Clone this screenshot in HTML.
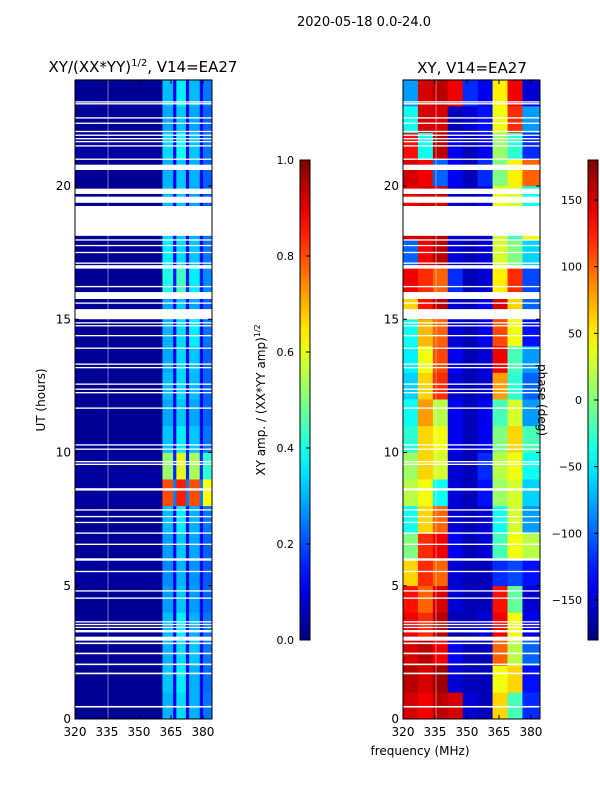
<!DOCTYPE html>
<html><head><meta charset="utf-8"><style>
html,body{margin:0;padding:0;background:#fff}
svg{display:block;font-family:"DejaVu Sans","Liberation Sans",sans-serif}
</style></head><body>
<svg id="fig" width="600" height="800" viewBox="0 0 600 800" xmlns="http://www.w3.org/2000/svg">
<text x="364" y="26" font-size="13" text-anchor="middle">2020-05-18 0.0-24.0</text>
<text x="143" y="72" font-size="15" text-anchor="middle">XY/(XX*YY)<tspan font-size="10" dy="-6">1/2</tspan><tspan dy="6">, V14=EA27</tspan></text>
<text x="472" y="73" font-size="15" text-anchor="middle">XY, V14=EA27</text>
<text x="420" y="755" font-size="12" text-anchor="middle">frequency (MHz)</text>
<text transform="translate(45,400) rotate(-90)" font-size="12" text-anchor="middle">UT (hours)</text>
<text transform="translate(265,400) rotate(-90)" font-size="12" text-anchor="middle">XY amp. / (XX*YY amp)<tspan font-size="8" dy="-5">1/2</tspan></text>
<g id="left"></g>
<g id="right"></g>
<g id="cb"></g>
<text transform="translate(538,400) rotate(90)" font-size="12" text-anchor="middle">phase (deg)</text>
</svg>
<script>
// ---- data ----
const hours = [0,1,2,3,4,5,6,7,8,9,10,11,12,13,14,15,16,17,18,19,20,21,22,23];
const ampFreqEdges = [320,361,366,367.5,372,373.5,378.5,380,384];
const ampValues = [
[0.02,0.30,0.12,0.34,0.12,0.30,0.12,0.24],
[0.02,0.32,0.12,0.36,0.12,0.30,0.12,0.23],
[0.02,0.30,0.12,0.34,0.12,0.32,0.12,0.24],
[0.02,0.31,0.12,0.36,0.12,0.30,0.12,0.24],
[0.02,0.28,0.12,0.32,0.12,0.28,0.12,0.22],
[0.03,0.26,0.11,0.30,0.11,0.27,0.11,0.21],
[0.02,0.28,0.12,0.32,0.12,0.29,0.12,0.22],
[0.02,0.31,0.12,0.36,0.12,0.30,0.12,0.24],
[0.03,0.80,0.25,0.85,0.25,0.80,0.25,0.62],
[0.03,0.52,0.16,0.60,0.16,0.54,0.16,0.42],
[0.02,0.32,0.12,0.36,0.12,0.32,0.12,0.24],
[0.02,0.29,0.12,0.32,0.12,0.29,0.12,0.22],
[0.02,0.31,0.12,0.34,0.12,0.31,0.12,0.22],
[0.02,0.29,0.12,0.34,0.12,0.32,0.12,0.22],
[0.02,0.30,0.12,0.34,0.12,0.36,0.12,0.24],
[0.02,0.29,0.12,0.32,0.12,0.29,0.12,0.22],
[0.02,0.40,0.14,0.44,0.14,0.36,0.14,0.26],
[0.02,0.36,0.12,0.34,0.12,0.32,0.12,0.24],
[0.02,0.34,0.12,0.32,0.12,0.30,0.12,0.24],
[0.02,0.31,0.12,0.32,0.12,0.29,0.12,0.22],
[0.02,0.30,0.12,0.32,0.12,0.30,0.12,0.22],
[0.03,0.34,0.12,0.39,0.12,0.32,0.12,0.24],
[0.02,0.29,0.12,0.32,0.12,0.29,0.12,0.22],
[0.02,0.31,0.12,0.36,0.12,0.31,0.12,0.24]];
const phaseFreqEdges = [320,327,334,341,348,355,362,369,376,384];
const phaseValues = [
[150,140,160,150,-150,-160,60,-20,-120],
[160,150,170,-150,-160,-160,40,60,-130],
[150,160,140,-140,-160,-160,100,20,-100],
[140,120,160,-160,-160,-150,140,40,-140],
[130,100,150,-150,-160,-160,130,-10,-150],
[60,120,100,-150,-160,-160,-120,-110,-130],
[0,120,140,-140,-160,-150,-20,40,20],
[-40,60,100,-150,-160,-150,-40,30,-80],
[20,40,-40,-150,-160,-130,10,30,-60],
[10,60,30,-150,-160,-120,20,40,-40],
[-30,60,40,-140,-160,-140,0,60,-20],
[-40,80,20,-140,-160,-140,-20,30,-80],
[-60,60,120,-150,-160,-150,80,-30,-100],
[-50,40,110,-140,-160,-150,140,-20,-80],
[-40,70,100,-150,-160,-140,110,40,-130],
[60,130,160,-150,-160,-140,150,60,-100],
[140,120,100,-120,-160,-150,50,120,-110],
[-100,140,160,-150,-160,-150,30,0,-60],
[150,150,160,-150,-160,-150,30,-20,40],
[140,150,150,-150,-160,-140,40,30,-40],
[150,140,-100,-140,-160,-120,0,50,100],
[130,-40,160,-140,-160,-140,10,-30,-120],
[-40,150,150,-160,-150,-130,40,120,-80],
[-80,150,160,140,-120,-140,50,140,-150]];
const flagStart = [0.43,1.68,2.02,2.43,2.81,2.94,3.25,3.42,3.53,3.63,4.51,4.78,5.51,5.94,6.53,6.95,7.35,7.57,7.82,8.57,9.53,9.63,10.10,10.26,11.64,12.22,12.35,12.54,13.16,13.29,13.89,14.36,14.73,14.84,15.00,15.58,15.76,16.20,16.90,17.08,17.48,17.74,17.95,18.13,19.37,19.70,20.60,20.98,21.48,21.64,21.75,21.88,22.02,22.33,22.53,23.06,23.13];
const flagEnd   = [0.49,1.74,2.08,2.49,2.87,3.09,3.34,3.46,3.57,3.67,4.56,4.83,5.56,6.03,6.58,7.00,7.40,7.62,7.87,8.66,9.58,9.68,10.15,10.31,11.69,12.27,12.40,12.59,13.21,13.34,13.94,14.41,14.78,14.89,15.38,15.63,16.02,16.25,17.03,17.13,17.53,17.79,18.00,19.25,19.60,19.90,20.80,21.03,21.53,21.69,21.80,21.93,22.07,22.38,22.58,23.11,23.18];
const xTicks = [320,335,350,365,380];
const yTicks = [0,5,10,15,20];
const ampTicks = [0.0,0.2,0.4,0.6,0.8,1.0];
const phaseTicks = [-150,-100,-50,0,50,100,150];

// ---- drawing ----
const NS="http://www.w3.org/2000/svg";
function jet(v){v=Math.max(0,Math.min(1,v));
 const c=x=>Math.round(255*Math.max(0,Math.min(1,x)));
 return `rgb(${c(1.5-Math.abs(4*v-3))},${c(1.5-Math.abs(4*v-2))},${c(1.5-Math.abs(4*v-1))})`;}
function el(tag,a,parent){const e=document.createElementNS(NS,tag);for(const k in a)e.setAttribute(k,a[k]);parent.appendChild(e);return e;}
const yT=h=>719-h*26.65;
function panel(g,x0,edges,vals,norm){
 const xF=f=>x0+(f-320)*2.133;
 hours.forEach((h,i)=>{vals[i].forEach((v,j)=>{
  const r=el('rect',{x:xF(edges[j]),y:yT(h+1),width:xF(edges[j+1])-xF(edges[j])+0.3,height:yT(h)-yT(h+1)+0.3,fill:jet(norm(v))},g);
  
  
 });});
 el('line',{x1:xF(335.5),x2:xF(335.5),y1:80,y2:719,stroke:'rgba(255,255,255,0.45)','stroke-width':1},g);
 flagStart.forEach((s,i)=>{
  const r=el('rect',{x:x0,y:yT(flagEnd[i]),width:137,height:Math.max(1.3,yT(s)-yT(flagEnd[i])),fill:'#fff'},g);
  
  
 });
 el('rect',{x:x0,y:80,width:137,height:639,fill:'none',stroke:'#000','stroke-width':1},g);
 xTicks.forEach(t=>{const x=xF(t);
  el('line',{x1:x,x2:x,y1:719,y2:715,stroke:'#000'},g);el('line',{x1:x,x2:x,y1:80,y2:84,stroke:'#000'},g);
  const tx=el('text',{x:x,y:736,'font-size':12,'text-anchor':'middle'},g);tx.textContent=t;
  
  });
 yTicks.forEach(t=>{const y=yT(t);
  el('line',{x1:x0,x2:x0+4,y1:y,y2:y,stroke:'#000'},g);el('line',{x1:x0+137,x2:x0+133,y1:y,y2:y,stroke:'#000'},g);
  const tx=el('text',{x:x0-4,y:y+4,'font-size':12,'text-anchor':'end'},g);tx.textContent=t;
  
  });
}
panel(document.getElementById('left'),75,ampFreqEdges,ampValues,v=>v);
panel(document.getElementById('right'),403,phaseFreqEdges,phaseValues,v=>(v+180)/360);

function colorbar(g,x,ticks,norm,id){
 const defs=el('defs',{},g);
 const lg=el('linearGradient',{id:id,x1:0,y1:1,x2:0,y2:0},defs);
 for(let i=0;i<=20;i++)el('stop',{offset:i/20,'stop-color':jet(i/20)},lg);
 el('rect',{x:x,y:160,width:10,height:480,fill:`url(#${id})`,stroke:'#000','stroke-width':1},g);
 ticks.forEach(t=>{const y=640-norm(t)*480;
  el('line',{x1:x+10,x2:x+6,y1:y,y2:y,stroke:'#000'},g);
  const tx=el('text',{x:x-6,y:y+4,'font-size':11,'text-anchor':'end'},g);
  tx.textContent=(ticks===ampTicks)?t.toFixed(1):String(t).replace('-','\u2212');
  
  });
}
const cb=document.getElementById('cb');
colorbar(cb,300,ampTicks,v=>v,'g1');
colorbar(cb,588,phaseTicks,v=>(v+180)/360,'g2');
</script>
</body></html>
